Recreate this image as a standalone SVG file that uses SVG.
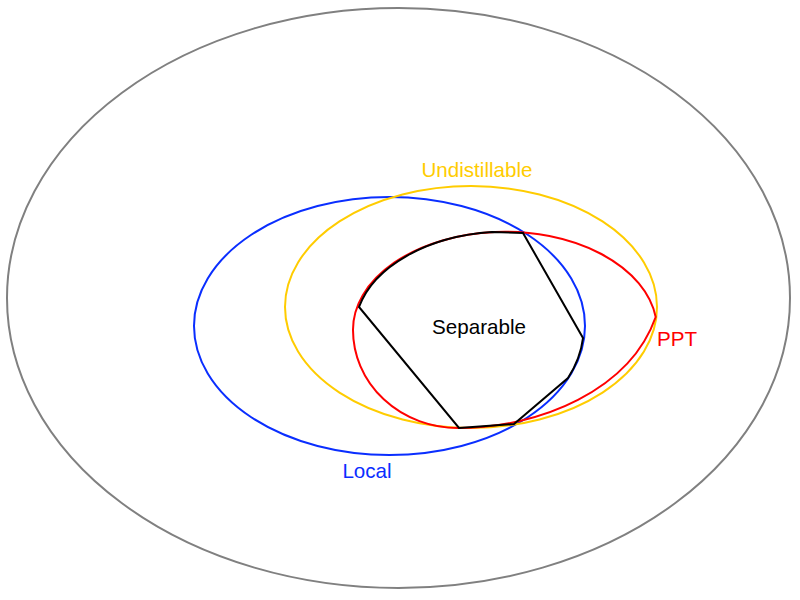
<svg xmlns="http://www.w3.org/2000/svg" width="800" height="600" viewBox="0 0 800 600">
<style>
.set{fill:none;stroke-width:2}
text{font-family:"Liberation Sans",Arial,sans-serif;font-size:20.6px}
</style>
<rect width="800" height="600" fill="#fff"/>
<g id="all"><ellipse class="set" cx="398.5" cy="298" rx="391.5" ry="290" stroke="#808080"/></g>
<g id="local"><ellipse class="set" cx="389.5" cy="326" rx="195.5" ry="129" stroke="#0a2eff"/>
<text x="367" y="478" text-anchor="middle" fill="#0a2eff">Local</text></g>
<g id="undistillable"><ellipse class="set" cx="471" cy="307" rx="186" ry="121" stroke="#ffcc00"/>
<text x="477" y="177" text-anchor="middle" fill="#ffcc00">Undistillable</text></g>
<g id="ppt"><path class="set" stroke="#ff0000" d="M655.7 317 A152 98 0 0 0 353 330 A105 98 0 0 0 458 428 C540 428 630 390 655.7 317 Z"/>
<text x="657" y="346" fill="#ff0000">PPT</text></g>
<g id="separable"><path class="set" stroke="#000" d="M359 307 A152 98 0 0 1 492 232 L523 233 L583 338 A195.5 129 0 0 1 568 378 L514 424 L459 428 Z"/>
<text x="479" y="334" text-anchor="middle" fill="#000">Separable</text></g>
<g id="connectors"></g>
</svg>
